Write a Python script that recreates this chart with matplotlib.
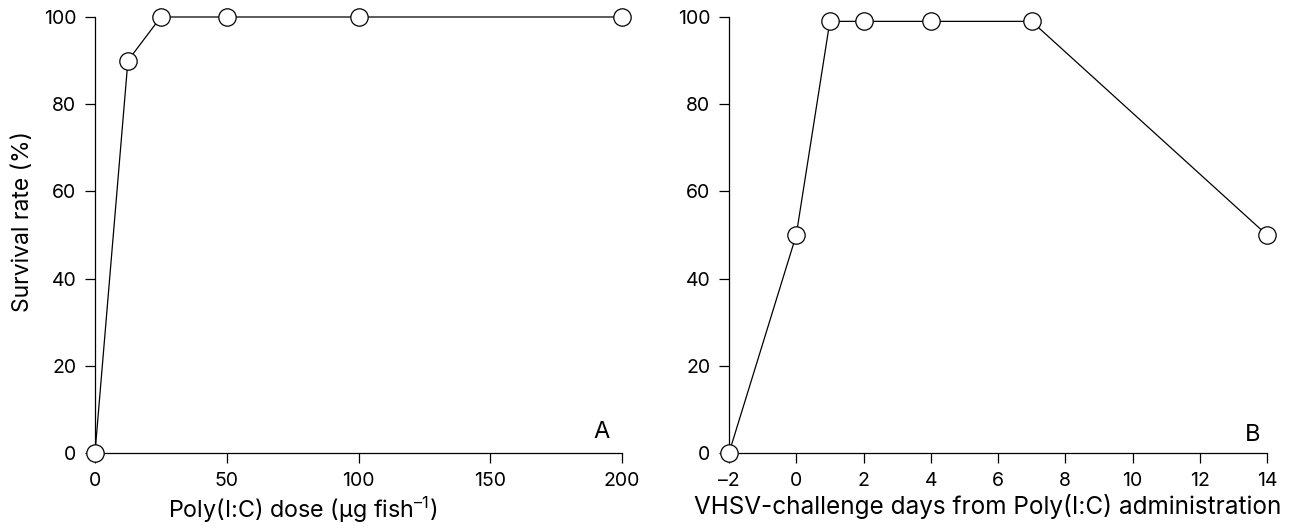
import matplotlib
matplotlib.use("Agg")
import matplotlib.pyplot as plt

plt.rcParams['font.family'] = ['Inter', 'DejaVu Sans']
plt.rcParams['mathtext.fontset'] = 'custom'
plt.rcParams['mathtext.rm'] = 'Inter'
plt.rcParams['mathtext.default'] = 'regular'

# Panel A data
dose = [0, 12.5, 25, 50, 100, 200]
survival_a = [0, 90, 100, 100, 100, 100]
xticks_a = [0, 50, 100, 150, 200]

# Panel B data
days = [-2, 0, 1, 2, 4, 7, 14]
survival_b = [0, 50, 99, 99, 99, 99, 50]
xticks_b = [-2, 0, 2, 4, 6, 8, 10, 12, 14]

yticks = [0, 20, 40, 60, 80, 100]

fig = plt.figure(figsize=(12.91, 5.28), dpi=100)
axA = fig.add_axes([95/1291, 75/528, 527/1291, 436/528])
axB = fig.add_axes([729/1291, 75/528, 538/1291, 436/528])

fs = 14
for ax, x, y, xt in [
    (axA, dose, survival_a, xticks_a),
    (axB, days, survival_b, xticks_b),
]:
    ax.plot(x, y, color='black', lw=0.9, marker='o', ms=12.5, mfc='white',
            mec='black', mew=0.9, clip_on=False, zorder=5)
    ax.set_xlim(xt[0], xt[-1])
    ax.set_ylim(0, 100)
    ax.set_xticks(xt)
    ax.set_yticks(yticks)
    ax.spines['top'].set_visible(False)
    ax.spines['right'].set_visible(False)
    for s in ['left', 'bottom']:
        ax.spines[s].set_linewidth(0.9)
    ax.tick_params(direction='out', length=7, width=0.9, labelsize=fs, pad=6.5)

axA.text(0.977, 0.035, 'A', transform=axA.transAxes, ha='right', va='baseline', fontsize=17)
axB.text(0.987, 0.028, 'B', transform=axB.transAxes, ha='right', va='baseline', fontsize=17)

axA.set_xlabel(r'Poly(I:C) dose (µg fish$^{–1}$)', fontsize=16.8)
axA.xaxis.set_label_coords(0.393, -0.095)
axB.set_xlabel('VHSV-challenge days from Poly(I:C) administration', fontsize=17.5)
axB.xaxis.set_label_coords(0.481, -0.095)

axB.set_xticklabels([str(v).replace('-', '–') for v in xticks_b])
axA.set_ylabel('Survival rate (%)', fontsize=16.5)
axA.yaxis.set_label_coords(-0.115, 0.53)

fig.savefig('out.png', dpi=100)
